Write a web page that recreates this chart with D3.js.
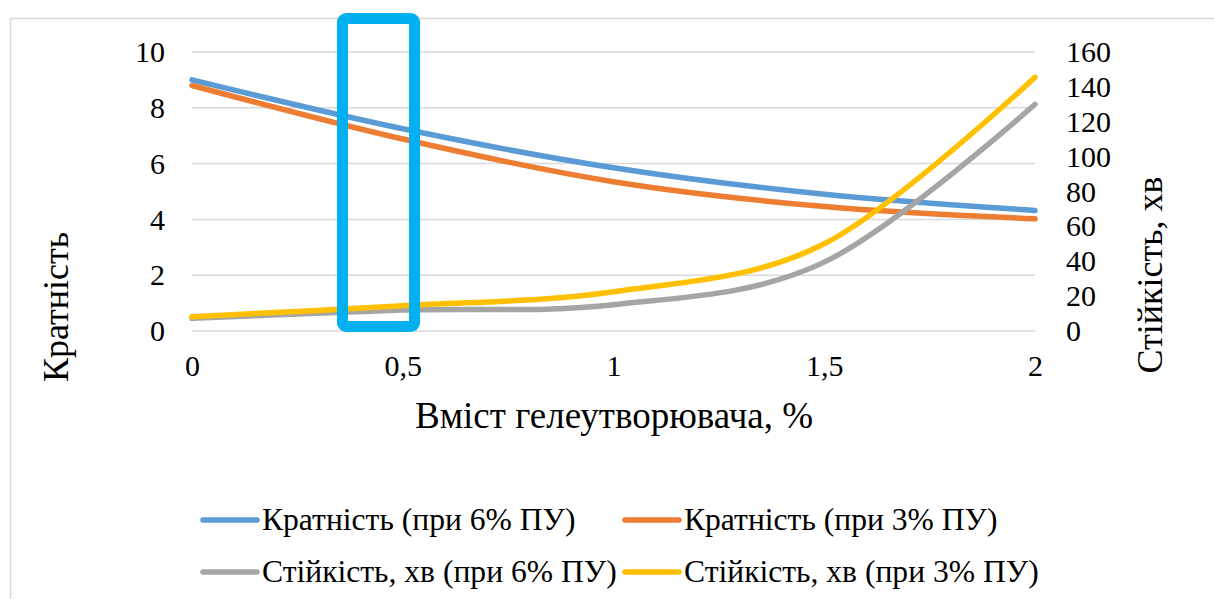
<!DOCTYPE html>
<html>
<head>
<meta charset="utf-8">
<script src="https://cdn.jsdelivr.net/npm/d3@7"></script>
<style>
  body { margin: 0; background: #fff; }
  svg text { font-family: "Liberation Serif", "Times New Roman", Times, "DejaVu Serif", serif !important; }
</style>
</head>
<body>
<svg id="chart" width="1214" height="599"></svg>
<script>
// дані
const gelContent = [0, 0.5, 1, 1.5, 2];
const kratn6 = [9.0, 7.25, 5.85, 4.9, 4.32];
const kratn3 = [8.8, 6.88, 5.35, 4.46, 4.02];
const stiyk6 = [7.3, 12, 15, 39.5, 130];
const stiyk3 = [8.2, 14.5, 22.5, 50, 145.5];

const leftTicks = [0, 2, 4, 6, 8, 10];
const rightTicks = [0, 20, 40, 60, 80, 100, 120, 140, 160];
const xTicks = [0, 0.5, 1, 1.5, 2];

const seriesNames = [
  "Кратність (при 6% ПУ)",
  "Кратність (при 3% ПУ)",
  "Стійкість, хв (при 6% ПУ)",
  "Стійкість, хв (при 3% ПУ)"
];
const seriesColors = ["#5B9BD5", "#ED7D31", "#A5A5A5", "#FFC000"];

// виділена область (рамка)
const highlightX = [0.357, 0.528];
const highlightY = [0.16, 11.2];

const svg = d3.select("#chart");

const x = d3.scaleLinear().domain([0, 2]).range([192, 1035]);
const yL = d3.scaleLinear().domain([0, 10]).range([331, 52]);
const yR = d3.scaleLinear().domain([0, 160]).range([331, 52]);

// рамка діаграми
svg.append("rect")
  .attr("x", 10.5).attr("y", 18.5)
  .attr("width", 1210).attr("height", 620)
  .attr("fill", "#fff")
  .attr("stroke", "#D9D9D9")
  .attr("stroke-width", 1.5);

// лінії сітки
svg.append("g")
  .selectAll("line")
  .data(leftTicks)
  .enter().append("line")
  .attr("x1", x(0)).attr("x2", x(2))
  .attr("y1", d => yL(d)).attr("y2", d => yL(d))
  .attr("stroke", "#D9D9D9")
  .attr("stroke-width", 1.5);

// осі
const ukr = d3.formatLocale({ decimal: ",", thousands: " ", grouping: [3], currency: ["", ""] });

const axisL = svg.append("g")
  .attr("transform", "translate(" + x(0) + ",0)")
  .call(d3.axisLeft(yL).tickValues(leftTicks).tickSize(0).tickPadding(27));
const axisR = svg.append("g")
  .attr("transform", "translate(" + x(2) + ",0)")
  .call(d3.axisRight(yR).tickValues(rightTicks).tickSize(0).tickPadding(31));
const axisB = svg.append("g")
  .attr("transform", "translate(0," + yL(0) + ")")
  .call(d3.axisBottom(x).tickValues(xTicks).tickFormat(ukr.format("~f")).tickSize(0).tickPadding(24));

[axisL, axisR, axisB].forEach(a => {
  a.attr("font-family", null);
  a.select(".domain").remove();
  a.selectAll("text")
    .attr("font-size", 30)
    .attr("fill", "#000");
});

// підписи осей
svg.append("text")
  .attr("x", 614).attr("y", 428)
  .attr("text-anchor", "middle")
  .attr("font-size", 37)
  .text("Вміст гелеутворювача, %");

svg.append("text")
  .attr("transform", "translate(68,307) rotate(-90)")
  .attr("text-anchor", "middle")
  .attr("font-size", 36)
  .text("Кратність");

svg.append("text")
  .attr("transform", "translate(1162,275) rotate(-90)")
  .attr("text-anchor", "middle")
  .attr("font-size", 36)
  .text("Стійкість, хв");

// лінії серій
const lineL = d3.line()
  .x((d, i) => x(gelContent[i]))
  .y(d => yL(d))
  .curve(d3.curveCatmullRom.alpha(0));
const lineR = d3.line()
  .x((d, i) => x(gelContent[i]))
  .y(d => yR(d))
  .curve(d3.curveCatmullRom.alpha(0));

const series = [
  { values: kratn6, line: lineL },
  { values: kratn3, line: lineL },
  { values: stiyk6, line: lineR },
  { values: stiyk3, line: lineR }
];

svg.append("g")
  .selectAll("path")
  .data(series)
  .enter().append("path")
  .attr("d", d => d.line(d.values))
  .attr("fill", "none")
  .attr("stroke", (d, i) => seriesColors[i])
  .attr("stroke-width", 5.5)
  .attr("stroke-linecap", "round");

// виділення
svg.append("rect")
  .attr("x", x(highlightX[0]))
  .attr("y", yL(highlightY[1]))
  .attr("width", x(highlightX[1]) - x(highlightX[0]))
  .attr("height", yL(highlightY[0]) - yL(highlightY[1]))
  .attr("rx", 4)
  .attr("fill", "none")
  .attr("stroke", "#00B0F0")
  .attr("stroke-width", 11);

// легенда
const legendPos = [
  { lx: 200, ty: 530 },
  { lx: 622, ty: 530 },
  { lx: 200, ty: 582 },
  { lx: 622, ty: 582 }
];

const legend = svg.append("g")
  .selectAll("g")
  .data(seriesNames)
  .enter().append("g")
  .attr("transform", (d, i) => "translate(" + legendPos[i].lx + "," + legendPos[i].ty + ")");

legend.append("line")
  .attr("x1", 3).attr("x2", 57)
  .attr("y1", -10).attr("y2", -10)
  .attr("stroke", (d, i) => seriesColors[i])
  .attr("stroke-width", 5.5)
  .attr("stroke-linecap", "round");

legend.append("text")
  .attr("x", 62)
  .attr("font-size", 31.6)
  .text(d => d);
</script>
</body>
</html>
